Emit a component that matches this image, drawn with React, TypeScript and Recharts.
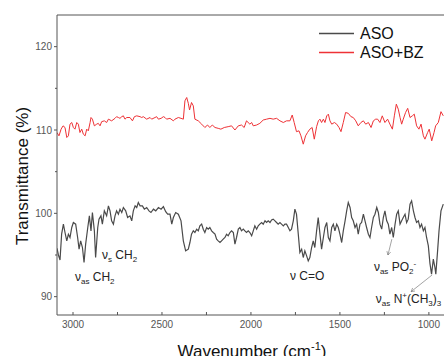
import React from "react";
import { LineChart, Line, XAxis, YAxis, Legend, ReferenceLine, ReferenceDot, Label } from "recharts";

// FTIR spectra (wavenumber cm-1 / transmittance %)
const asoWn = [
  3090, 3082, 3073, 3064, 3054, 3045, 3035, 3026, 3017, 3007, 2998, 2985, 2974, 2966, 2957, 2947, 2938, 2929,
  2917, 2908, 2899, 2891, 2880, 2873, 2861, 2854, 2843, 2835, 2824, 2811, 2801, 2792, 2783, 2773, 2764, 2755,
  2745, 2736, 2726, 2717, 2704, 2693, 2680, 2670, 2661, 2651, 2642, 2633, 2623, 2610, 2599, 2586, 2573, 2562,
  2548, 2535, 2520, 2505, 2492, 2479, 2468, 2455, 2445, 2436, 2423, 2408, 2393, 2380, 2367, 2352, 2343, 2334,
  2324, 2315, 2305, 2296, 2287, 2277, 2268, 2259, 2249, 2240, 2231, 2221, 2212, 2202, 2193, 2184, 2174, 2165,
  2156, 2146, 2137, 2128, 2118, 2109, 2099, 2090, 2081, 2071, 2062, 2053, 2043, 2034, 2025, 2015, 2006, 1996,
  1987, 1978, 1968, 1959, 1950, 1940, 1931, 1921, 1912, 1903, 1893, 1884, 1875, 1865, 1856, 1847, 1837, 1828,
  1818, 1809, 1800, 1790, 1781, 1772, 1762, 1753, 1744, 1734, 1725, 1715, 1706, 1697, 1687, 1678, 1669, 1659,
  1650, 1641, 1631, 1622, 1612, 1603, 1593, 1584, 1574, 1565, 1556, 1546, 1537, 1528, 1518, 1509, 1500, 1490,
  1481, 1471, 1462, 1453, 1443, 1434, 1425, 1415, 1406, 1397, 1387, 1378, 1368, 1359, 1350, 1340, 1331, 1322,
  1312, 1303, 1293, 1284, 1275, 1265, 1256, 1247, 1237, 1228, 1219, 1209, 1200, 1190, 1181, 1172, 1162, 1153,
  1144, 1134, 1125, 1116, 1106, 1097, 1087, 1078, 1069, 1059, 1050, 1041, 1031, 1022, 1013, 1003, 994, 985,
  975, 966, 961, 951, 943, 932, 919,
];
const asoT = [
  95.8, 95.0, 94.4, 97.5, 98.7, 97.7, 96.7, 97.5, 97.1, 98.3, 98.9, 98.7, 97.1, 95.7, 96.7, 95.9, 94.1, 96.3,
  98.3, 99.7, 97.9, 100.1, 97.9, 94.7, 98.3, 99.3, 99.7, 98.7, 100.3, 99.7, 100.9, 100.3, 99.1, 98.7, 99.7, 100.3,
  99.9, 100.5, 100.1, 100.7, 100.3, 99.5, 99.7, 99.1, 100.3, 100.9, 100.7, 101.3, 100.9, 100.9, 100.5, 100.7, 100.3, 100.1,
  100.5, 100.3, 100.7, 100.5, 100.8, 100.2, 99.9, 99.9, 98.7, 99.5, 100.1, 99.9, 99.1, 96.7, 95.5, 95.7, 96.5, 97.5,
  97.9, 97.7, 98.1, 97.9, 98.5, 98.7, 98.1, 97.7, 98.3, 98.1, 98.3, 97.9, 97.7, 97.5, 96.9, 96.7, 96.5, 96.7,
  96.9, 97.1, 97.5, 97.3, 97.7, 97.9, 97.7, 96.3, 97.1, 98.1, 98.3, 97.9, 98.1, 97.9, 97.7, 97.9, 97.7, 97.3,
  97.9, 98.5, 98.1, 98.5, 98.7, 98.9, 98.7, 99.1, 98.9, 99.1, 98.9, 99.2, 99.3, 99.1, 98.9, 98.7, 98.9, 98.7,
  98.5, 98.7, 98.7, 98.3, 97.9, 98.1, 99.1, 100.5, 99.9, 97.5, 95.3, 95.7, 94.7, 95.5, 94.9, 94.3, 94.7, 95.9,
  96.7, 95.9, 97.9, 99.5, 97.5, 95.7, 97.1, 98.3, 98.9, 97.1, 96.7, 98.3, 98.7, 97.9, 98.7, 98.3, 97.5, 96.5,
  97.9, 99.1, 100.3, 101.3, 100.7, 99.5, 99.1, 98.3, 98.7, 97.5, 98.7, 98.9, 99.9, 99.1, 98.3, 97.5, 97.1, 98.3,
  99.5, 99.9, 100.7, 100.1, 98.7, 98.1, 99.5, 100.3, 99.1, 98.7, 97.5, 98.3, 97.1, 98.7, 99.9, 100.3, 98.7, 99.1,
  99.5, 99.9, 98.9, 99.3, 101.1, 101.5, 100.3, 99.5, 98.9, 99.1, 98.3, 98.7, 97.9, 98.3, 97.1, 96.1, 94.0, 92.7,
  94.5, 93.5, 92.7, 95.5, 97.9, 100.3, 101.1,
];

const bzWn = [
  3090, 3079, 3067, 3056, 3045, 3035, 3026, 3017, 3007, 2998, 2989, 2979, 2970, 2961, 2951, 2942, 2932, 2923,
  2914, 2904, 2899, 2891, 2880, 2867, 2858, 2848, 2839, 2824, 2811, 2801, 2783, 2764, 2755, 2745, 2736, 2726,
  2717, 2708, 2698, 2680, 2666, 2655, 2642, 2623, 2614, 2605, 2586, 2567, 2558, 2539, 2530, 2520, 2505, 2492,
  2483, 2474, 2455, 2436, 2427, 2408, 2393, 2380, 2371, 2361, 2352, 2345, 2334, 2324, 2315, 2296, 2277, 2259,
  2244, 2231, 2217, 2202, 2184, 2169, 2150, 2128, 2109, 2090, 2071, 2053, 2038, 2025, 2006, 1996, 1987, 1968,
  1950, 1931, 1912, 1893, 1875, 1856, 1837, 1818, 1800, 1781, 1768, 1757, 1744, 1730, 1719, 1706, 1693, 1682,
  1669, 1656, 1644, 1631, 1621, 1612, 1603, 1593, 1584, 1574, 1565, 1556, 1546, 1531, 1518, 1505, 1494, 1481,
  1468, 1453, 1438, 1425, 1411, 1397, 1382, 1368, 1355, 1340, 1325, 1312, 1299, 1288, 1275, 1262, 1247, 1232,
  1219, 1205, 1194, 1183, 1172, 1162, 1153, 1144, 1131, 1119, 1106, 1093, 1082, 1069, 1056, 1044, 1031, 1022,
  1007, 998, 984, 971, 962, 947, 932, 919,
];
const bzT = [
  109.7, 109.3, 110.1, 110.5, 110.3, 109.1, 109.3, 110.7, 110.9, 110.3, 110.1, 110.9, 110.7, 109.7, 110.1, 109.5, 109.3, 110.1,
  109.9, 110.9, 111.5, 111.3, 110.5, 110.7, 110.8, 110.5, 111.0, 111.1, 110.9, 111.3, 111.1, 111.4, 111.6, 111.5, 111.4, 111.6,
  111.7, 111.3, 111.5, 111.5, 111.1, 111.6, 111.7, 111.6, 111.5, 111.6, 111.3, 111.5, 111.3, 111.5, 111.6, 111.3, 111.4, 111.6,
  111.5, 111.3, 111.4, 111.1, 111.3, 111.5, 111.4, 111.3, 113.5, 113.9, 113.2, 112.4, 113.3, 112.9, 111.3, 111.1, 110.7, 110.3,
  110.6, 110.3, 110.6, 110.3, 110.2, 110.1, 110.3, 110.4, 110.5, 110.0, 110.5, 110.6, 110.3, 111.1, 110.7, 110.9, 110.5, 110.6,
  110.8, 111.2, 111.3, 111.4, 111.3, 111.4, 111.1, 110.9, 111.1, 111.1, 111.8, 110.9, 109.8, 109.9, 109.3, 108.3, 109.3, 109.7,
  110.1, 110.3, 108.9, 110.4, 111.1, 111.3, 110.9, 111.3, 110.9, 111.7, 111.9, 111.1, 110.7, 110.9, 110.7, 110.3, 109.8, 110.9,
  112.1, 112.0, 111.6, 111.5, 111.1, 110.5, 110.9, 111.1, 110.7, 110.9, 110.3, 111.1, 111.3, 111.3, 110.9, 111.7, 110.9, 111.3,
  110.7, 110.1, 111.7, 113.1, 112.5, 111.5, 110.7, 111.3, 112.1, 112.6, 111.5, 111.7, 111.9, 110.5, 110.1, 110.7, 109.3, 108.9,
  109.7, 110.1, 108.7, 109.7, 110.5, 110.9, 112.2, 111.7,
];

const xTicks = [3000, 2750, 2500, 2250, 2000, 1750, 1500, 1250, 1000];
const xLabelled = [3000, 2500, 2000, 1500, 1000];
const yTicks = [90, 95, 100, 105, 110, 115, 120];
const yLabelled = [90, 100, 110, 120];

type Part = { t: string; k?: "sub" | "sup" };
const notes: { w: number; v: number; parts: Part[] }[] = [
  { w: 2989, v: 91.9, parts: [{ t: "ν" }, { t: "as", k: "sub" }, { t: " CH" }, { t: "2", k: "sub" }] },
  { w: 2837, v: 94.5, parts: [{ t: "ν" }, { t: "s", k: "sub" }, { t: " CH" }, { t: "2", k: "sub" }] },
  { w: 1781, v: 92.0, parts: [{ t: "ν C=O" }] },
  { w: 1309, v: 93.1, parts: [{ t: "ν" }, { t: "as", k: "sub" }, { t: " PO" }, { t: "2", k: "sub" }, { t: "-", k: "sup" }] },
  {
    w: 1298, v: 89.2,
    parts: [{ t: "ν" }, { t: "as", k: "sub" }, { t: " N" }, { t: "+", k: "sup" }, { t: "(CH" }, { t: "3", k: "sub" }, { t: ")" }, { t: "3", k: "sub" }],
  },
];
// arrow tail -> head, in data units
const arrows = [
  [{ x: 1208, y: 96.9 }, { x: 1230, y: 95.0 }],
  [{ x: 982, y: 92.6 }, { x: 1100, y: 90.6 }],
];

const FONT = "'Liberation Sans', Arial, sans-serif";
const AXIS = "#555";
const GREY = "#4a4a4a";
const RED = "#ee3236";

const asoData = asoWn.map((wn, i) => ({ wn, t: asoT[i] }));
const bzData = bzWn.map((wn, i) => ({ wn, t: bzT[i] }));

function XTick({ x, y, payload }: any) {
  return (
    <g>
      <line x1={x} y1={y} x2={x} y2={y - 3} stroke={AXIS} />
      {xLabelled.includes(payload.value) && (
        <text x={x} y={y + 13} textAnchor="middle" fontSize={10} fill="#555" fontFamily={FONT}>
          {payload.value}
        </text>
      )}
    </g>
  );
}

function YTick({ x, y, payload }: any) {
  const major = yLabelled.includes(payload.value);
  return (
    <g>
      <line x1={x} y1={y} x2={x - (major ? 3 : 2)} y2={y} stroke={AXIS} />
      {major && (
        <text x={x - 5} y={y + 3.5} textAnchor="end" fontSize={10} fill="#555" fontFamily={FONT}>
          {payload.value}
        </text>
      )}
    </g>
  );
}

function NoteText({ cx, cy, parts }: any) {
  let shift = 0;
  return (
    <text x={cx} y={cy} fontSize={12} fill="#222" fontFamily={FONT}>
      {parts.map((p: Part, i: number) => {
        const target = p.k === "sub" ? 3 : p.k === "sup" ? -5 : 0;
        const dy = target - shift;
        shift = target;
        return (
          <tspan key={i} dy={dy} fontSize={p.k ? 8 : 12}>
            {p.t}
          </tspan>
        );
      })}
    </text>
  );
}

function Arrow({ x1, y1, x2, y2 }: any) {
  const a = Math.atan2(y2 - y1, x2 - x1);
  const h = 4;
  const l = `${x2 - h * Math.cos(a - 0.5)},${y2 - h * Math.sin(a - 0.5)}`;
  const r = `${x2 - h * Math.cos(a + 0.5)},${y2 - h * Math.sin(a + 0.5)}`;
  return (
    <g stroke="#666" strokeWidth={0.6} fill="none">
      <line x1={x1} y1={y1} x2={x2} y2={y2} />
      <polyline points={`${l} ${x2},${y2} ${r}`} />
    </g>
  );
}

const renderLegend = (props: any) => (
  <svg width={125} height={40}>
    {(props.payload || []).map((p: any, i: number) => (
      <g key={i}>
        <line x1={0} x2={35} y1={9.5 + i * 19} y2={9.5 + i * 19} stroke={p.color} strokeWidth={1.5} />
        <text x={41} y={15 + i * 19} fontSize={16} fill="#111" fontFamily={FONT}>
          {p.value}
        </text>
      </g>
    ))}
  </svg>
);

export default function App() {
  return (
    <div>
      <style>{"body{margin:0;overflow:hidden}"}</style>
      <LineChart width={444} height={356} margin={{ top: 15, right: 0, bottom: 0, left: 0 }}>
        <XAxis
          type="number"
          dataKey="wn"
          domain={[915, 3090]}
          reversed
          allowDataOverflow
          ticks={xTicks}
          interval={0}
          height={41}
          tickLine={false}
          tickSize={0}
          tickMargin={0}
          tick={<XTick />}
          axisLine={{ stroke: AXIS }}
        >
          <Label
            content={({ viewBox }: any) => (
              <text x={viewBox.x + viewBox.width / 2 + 1.5} y={viewBox.y + 42} textAnchor="middle" fontSize={17} fill="#111" fontFamily={FONT}>
                Wavenumber (cm<tspan dy={-7} fontSize={11}>-1</tspan>
                <tspan dy={7}>)</tspan>
              </text>
            )}
          />
        </XAxis>
        <YAxis
          type="number"
          domain={[87.8, 123.8]}
          allowDataOverflow
          ticks={yTicks}
          interval={0}
          width={57}
          tickLine={false}
          tickSize={0}
          tickMargin={0}
          tick={<YTick />}
          axisLine={{ stroke: AXIS }}
        >
          <Label
            content={() => (
              <text x={27.5} y={176} textAnchor="middle" fontSize={17} fill="#111" fontFamily={FONT} transform="rotate(-90 27.5 176)">
                Transmittance (%)
              </text>
            )}
          />
        </YAxis>
        <ReferenceLine y={123.8} stroke={AXIS} />
        <Line data={asoData} dataKey="t" name="ASO" stroke={GREY} strokeWidth={1.2} dot={false} isAnimationActive={false} />
        <Line data={bzData} dataKey="t" name="ASO+BZ" stroke={RED} strokeWidth={1} dot={false} isAnimationActive={false} />
        {notes.map((n, i) => (
          <ReferenceDot key={i} x={n.w} y={n.v} r={0} shape={(p: any) => <NoteText cx={p.cx} cy={p.cy} parts={n.parts} />} />
        ))}
        {arrows.map((s, i) => (
          <ReferenceLine key={"a" + i} segment={s} shape={Arrow} />
        ))}
        <Legend
          layout="vertical"
          align="center"
          verticalAlign="middle"
          wrapperStyle={{ left: 319, top: 24, width: 125, height: 40 }}
          content={renderLegend}
        />
      </LineChart>
    </div>
  );
}
